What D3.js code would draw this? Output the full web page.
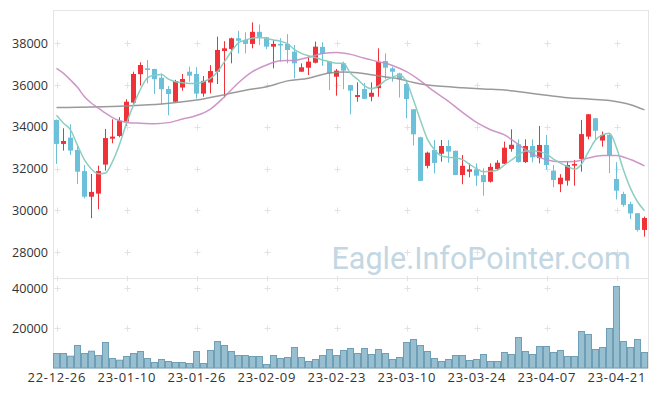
<!DOCTYPE html>
<html>
<head>
<meta charset="utf-8">
<script src="https://cdn.jsdelivr.net/npm/d3@7/dist/d3.min.js"></script>
<style>
  html, body { margin: 0; padding: 0; background: #fff; }
  svg { display: block; }
  text { font-family: "Open Sans", "Noto Sans", sans-serif; }
</style>
</head>
<body>
<svg id="chart" width="657" height="396"></svg>
<script>
// ---------- data ----------
const dates = [
  "22-12-26","22-12-27","22-12-28","22-12-29","23-01-02","23-01-03","23-01-04","23-01-05","23-01-06","23-01-09",
  "23-01-10","23-01-11","23-01-12","23-01-13","23-01-16","23-01-17","23-01-18","23-01-19","23-01-20","23-01-25",
  "23-01-26","23-01-27","23-01-30","23-01-31","23-02-01","23-02-02","23-02-03","23-02-06","23-02-07","23-02-08",
  "23-02-09","23-02-10","23-02-13","23-02-14","23-02-15","23-02-16","23-02-17","23-02-20","23-02-21","23-02-22",
  "23-02-23","23-02-24","23-02-27","23-02-28","23-03-02","23-03-03","23-03-06","23-03-07","23-03-08","23-03-09",
  "23-03-10","23-03-13","23-03-14","23-03-15","23-03-16","23-03-17","23-03-20","23-03-21","23-03-22","23-03-23",
  "23-03-24","23-03-27","23-03-28","23-03-29","23-03-30","23-03-31","23-04-03","23-04-04","23-04-05","23-04-06",
  "23-04-07","23-04-10","23-04-11","23-04-12","23-04-13","23-04-14","23-04-17","23-04-18","23-04-19","23-04-20",
  "23-04-21","23-04-24","23-04-25","23-04-26","23-04-27"
];
const open = [
  34330,33180,33480,32890,31880,30650,30800,32190,33430,33560,
  34250,35160,36520,36800,36770,36350,35810,35200,35880,36640,
  36530,35590,36120,36640,37630,37730,38240,38160,37970,38550,
  38290,37840,37970,37970,37600,36640,36830,37070,37830,37120,
  36400,37040,36000,35430,35810,35440,35850,37150,36800,36560,
  36050,34840,33500,32130,32890,32710,33080,32850,31690,31850,
  31960,31690,31370,31980,32230,32940,33160,32310,33080,32500,
  33130,31900,31250,31420,32140,32460,33530,34410,33340,33610,
  31500,30780,30300,29860,29060
];
const high = [
  34350,33930,34120,33080,32170,31740,32140,33900,34360,34460,
  35320,36640,37090,37200,36780,36560,35950,36250,36530,36880,
  36860,36430,36950,38320,38100,38270,38600,38530,39000,38900,
  38300,38150,38240,38440,37920,37040,37360,38080,38050,37130,
  36770,37120,36010,36130,36100,36130,37760,37520,36880,36590,
  36260,34850,33520,32810,33370,33370,33370,32860,32650,32250,
  32250,32010,32250,32400,33290,33880,33400,33400,33400,34040,
  33610,32170,31730,32330,32410,34330,34610,34420,33770,33690,
  32310,30890,30410,29870,29700
];
const low = [
  32220,32860,32650,31260,30570,29620,30050,31900,33210,33500,
  34040,35050,35970,36080,35570,35080,34550,35180,35730,36160,
  35350,35440,35600,36050,35400,37040,37520,37520,37760,37920,
  37720,36800,37120,37040,36320,36640,36480,37040,36920,35760,
  35490,35800,34600,35200,35330,35220,35440,36280,36160,35400,
  34410,33100,31400,32010,31770,32330,32280,31680,31250,31580,
  31170,30700,31330,31920,32220,32810,32280,32270,32300,32250,
  31950,31100,30870,31180,31180,31850,33400,33410,33050,31780,
  30520,30170,29580,28980,28740
];
const close = [
  33180,33320,32860,31850,30650,30880,31880,33460,33530,34290,
  35200,36530,36960,36720,36280,35800,35570,36190,36290,36450,
  35590,36200,36670,37680,37760,38240,38120,37970,38550,38240,
  37840,37970,37920,37680,37040,36850,37120,37840,37490,36560,
  36690,36690,35730,35520,35340,35630,37110,36830,36640,36280,
  35330,33640,31410,32760,32270,33080,32810,31690,32130,31960,
  31660,31350,32080,32280,33000,33140,32310,33080,32540,33130,
  32170,31450,31560,32170,32220,33650,34600,33810,33610,32650,
  30940,30260,29850,29060,29630
];
const volume = [
  7500,7500,6150,11500,7500,8650,6500,13000,5000,4150,
  6000,7500,8500,5000,3000,4500,3500,3000,3000,2500,
  8500,2500,9000,13500,11500,8500,6500,6500,6000,6000,
  2000,6500,5000,5500,10500,5500,3500,4500,6500,9500,
  6500,9000,10000,7500,10000,7000,9500,7500,4500,5500,
  13000,14500,11500,8500,5000,3500,4500,6500,6500,4000,
  4500,7000,3500,3500,8000,7000,15500,8500,7000,11000,
  11000,8000,9000,6000,6000,18500,17000,9500,10500,20000,
  41000,13500,10500,14500,8000
];
// 5-day moving average, one reading per candle
const ma5 = [
  34550,34170,33850,33110,32410,31970,31750,31790,32330,33150,
  34170,35050,35800,36340,36480,36510,36280,36160,36110,36080,
  36080,36160,36320,36640,37120,37620,38020,38160,38240,38290,
  38220,38160,38100,37980,37700,37520,37400,37320,37200,37120,
  37050,37040,36560,36280,35960,35820,35960,36220,36380,36480,
  36150,35280,34300,33400,32900,32600,32540,32510,32430,32210,
  31990,31850,31870,31930,32170,32410,32650,32840,32850,32810,
  32690,32450,32260,32100,31970,32210,32810,33370,33610,33690,
  33000,31930,31050,30410,29980
];
// 20-day moving average, [candle index, value] readings
const ma20 = [
  [0,36800],[1,36560],[2,36240],[3,35890],[4,35440],[5,35130],[6,34890],[7,34650],[8,34440],[9,34290],
  [10,34210],[12,34170],[14,34150],[16,34200],[18,34370],[20,34540],[22,34850],[24,35440],[26,36110],
  [28,36640],[30,36960],[32,37160],[34,37180],[36,37330],[38,37510],[40,37560],[42,37470],[44,37280],
  [46,37120],[48,36940],[50,36640],[52,36200],[54,35680],[56,35220],[58,34690],[60,34210],[62,33860],
  [64,33610],[66,33150],[68,32690],[70,32420],[72,32330],[74,32340],[76,32510],[78,32620],[80,32630],
  [82,32430],[84,32130]
];
// 60-day moving average, [candle index, value] readings
const ma60 = [
  [0,34920],[5,34950],[10,35000],[15,35090],[20,35280],[24,35540],[27,35750],[30,35920],[33,36200],
  [36,36330],[39,36580],[41,36620],[43,36590],[45,36490],[47,36390],[49,36290],[51,36120],[53,36000],
  [55,35940],[58,35870],[61,35810],[64,35760],[67,35640],[70,35510],[73,35390],[76,35330],[79,35260],
  [82,35060],[84,34810]
];
const xTickLabels = ["22-12-26","23-01-10","23-01-26","23-02-09","23-02-23","23-03-10","23-03-24","23-04-07","23-04-21"];
const priceTicks = [28000,30000,32000,34000,36000,38000];
const volumeTicks = [20000,40000];
const watermark = "Eagle.InfoPointer.com";

// ---------- layout ----------
const L = 53, R = 648, T = 10, MID = 278, B = 368;
const svg = d3.select("#chart");

const x = d3.scaleBand().domain(dates).range([L, R]).padding(0);
const bw = x.bandwidth();
const cx = d => x(d) + bw / 2;
const yP = d3.scaleLinear().domain([26757, 39595]).range([MID, T]);
const yV = d3.scaleLinear().domain([0, 45000]).range([B, MID]);

const gridCol = "#e2e2e2";
const upCol = "#ee3238";
const downCol = "#6cc0da";

// panel borders
svg.append("rect").attr("x", L + 0.5).attr("y", T + 0.5)
  .attr("width", R - L).attr("height", MID - T)
  .attr("fill", "none").attr("stroke", "#e4e4e4");
svg.append("rect").attr("x", L + 0.5).attr("y", MID + 0.5)
  .attr("width", R - L).attr("height", B - MID - 0.5)
  .attr("fill", "none").attr("stroke", "#e4e4e4");

// grid crosses
function cross(g, px, py) {
  g.append("line").attr("x1", px - 3).attr("x2", px + 3).attr("y1", py).attr("y2", py);
  g.append("line").attr("x1", px).attr("x2", px).attr("y1", py - 3).attr("y2", py + 3);
}
const grid = svg.append("g").attr("stroke", gridCol).attr("stroke-width", 1);
xTickLabels.forEach(lbl => {
  const px = Math.round(cx(lbl)) + 0.5;
  priceTicks.forEach(v => cross(grid, px, Math.round(yP(v)) + 0.5));
  volumeTicks.forEach(v => cross(grid, px, Math.round(yV(v)) + 0.5));
  grid.append("line").attr("x1", px).attr("x2", px).attr("y1", MID - 2).attr("y2", MID + 3);
});

// watermark
svg.append("text")
  .attr("x", 331.5).attr("y", 268.5)
  .style("font-family", "Roboto, sans-serif")
  .style("font-size", "30.5px")
  .attr("fill", "#c3d7e2")
  .text(watermark);

// y axis labels
const lab = svg.append("g").attr("fill", "#333").style("font-size", "12.6px").attr("text-anchor", "end");
priceTicks.forEach(v => lab.append("text").attr("x", 48).attr("y", yP(v) + 4.6).text(v));
volumeTicks.forEach(v => lab.append("text").attr("x", 48).attr("y", yV(v) + 4.6).text(v));

// x axis labels
const xl = svg.append("g").attr("fill", "#333").style("font-size", "13px")
  .attr("text-anchor", "middle").style("letter-spacing", "0.7px");
xTickLabels.forEach(lbl => xl.append("text").attr("x", cx(lbl) + 0.3).attr("y", 381.5).text(lbl));

// candles
const candles = dates.map((d, i) => ({ d, o: open[i], h: high[i], l: low[i], c: close[i] }));
const cg = svg.append("g");
cg.selectAll("line.wick").data(candles).enter().append("line")
  .attr("x1", d => Math.floor(cx(d.d)) + 0.5).attr("x2", d => Math.floor(cx(d.d)) + 0.5)
  .attr("y1", d => yP(d.h)).attr("y2", d => yP(d.l))
  .attr("stroke", d => d.c >= d.o ? upCol : downCol).attr("stroke-width", 1);
cg.selectAll("rect.body").data(candles).enter().append("rect")
  .attr("x", d => Math.floor(cx(d.d)) - 2)
  .attr("width", 5)
  .attr("y", d => yP(Math.max(d.o, d.c)))
  .attr("height", d => Math.max(1.5, Math.abs(yP(d.o) - yP(d.c))))
  .attr("fill", d => d.c >= d.o ? upCol : downCol);

// moving averages
const lineIdx = d3.line().curve(d3.curveMonotoneX)
  .x(p => cx(dates[p[0]])).y(p => yP(p[1]));
svg.append("path").attr("d", lineIdx(ma60))
  .attr("fill", "none").attr("stroke", "#8f8f8f").attr("stroke-width", 1.5).attr("opacity", 0.9);
svg.append("path").attr("d", lineIdx(ma20))
  .attr("fill", "none").attr("stroke", "#c98bc2").attr("stroke-width", 1.5).attr("opacity", 0.9);
svg.append("path").attr("d", lineIdx(ma5.map((v, i) => [i, v])))
  .attr("fill", "none").attr("stroke", "#86cbbf").attr("stroke-width", 1.5).attr("opacity", 0.95);

// volume bars
svg.append("g").selectAll("rect").data(dates).enter().append("rect")
  .attr("x", d => x(d) + 0.5)
  .attr("width", bw - 1)
  .attr("y", (d, i) => yV(volume[i]) + 0.5)
  .attr("height", (d, i) => Math.max(0, yV(0) - yV(volume[i]) - 0.5))
  .attr("fill", "#97bfd0").attr("stroke", "#6f9fb6").attr("stroke-width", 1);
</script>
</body>
</html>
